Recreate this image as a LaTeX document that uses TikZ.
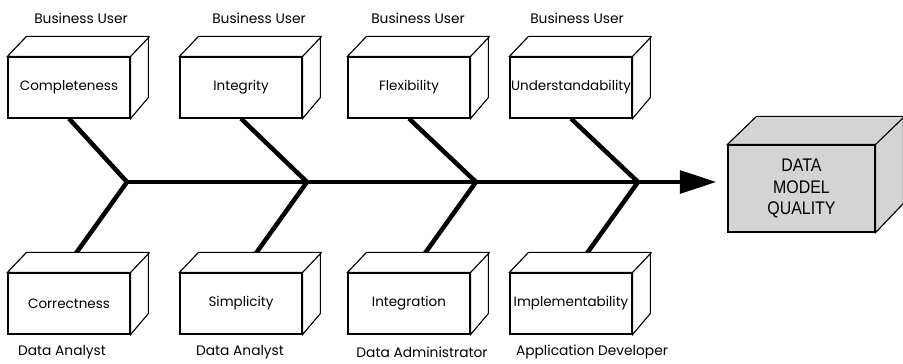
\documentclass[tikz,border=0pt]{standalone}
\usepackage{fontspec}
\setmainfont{Poppins}
\newfontfamily\arialfont[FakeStretch=0.87]{Liberation Sans}
\usetikzlibrary{arrows.meta,backgrounds}

\begin{document}
\begin{tikzpicture}[
    x = 0.025cm,
    y = -0.025cm,
    >={Triangle[length=26pt,width=16pt]},
    bone/.style = {line width = 3.2pt},
    facet/.style = {
      draw,
      fill = white,
      rectangle,
      line width = 0.8pt,
      inner sep = 0pt,
      minimum width = 3.05cm,
      minimum height = 1.525cm,
      font = \fontsize{9.6}{11}\selectfont
    },
    goal/.style = {
      facet,
      fill = black!17,
      align = center,
      minimum width = 3.675cm,
      minimum height = 2.175cm,
      font = \arialfont\fontsize{13}{15}\selectfont
    },
    role/.style = {font = \fontsize{9.8}{11}\selectfont}
  ]
  \useasboundingbox (0,0) rectangle (903,363);

  % junctions on the spine
  \coordinate (j1) at (127,182);
  \coordinate (j2) at (307,182);
  \coordinate (j3) at (476,182);
  \coordinate (j4) at (638,182);

  \node[facet] (compl) at (69,87.5)  {Completeness};
  \node[facet] (integ) at (241,87.5) {Integrity};
  \node[facet] (flex)  at (409,87.5) {Flexibility};
  \node[facet] (under) at (571,87.5) {Understandability};

  \node[facet] (corr)  at (69,303.5)  {Correctness};
  \node[facet] (simpl) at (241,303.5) {Simplicity};
  \node[facet] (integr) at (409,303.5) {Integration};
  \node[facet] (impl)  at (571,303.5) {Implementability};

  \node[goal] (dmq) at (801.5,188.5) {DATA\\MODEL\\QUALITY};

  % top and side faces
  \foreach \b in {compl,integ,flex,under,corr,simpl,integr,impl}
    \draw[line width=0.8pt, fill=white] (\b.north west) -- ++(19,-20) -- ++(122,0) -- ++(0,61)
      -- (\b.south east) -- (\b.north east) -- cycle (\b.north east) -- ++(19,-20);
  \draw[line width=0.8pt, fill=black!17] (dmq.north west) -- ++(29,-28) -- ++(147,0) -- ++(0,87)
    -- (dmq.south east) -- (dmq.north east) -- cycle (dmq.north east) -- ++(29,-28);

  \begin{scope}[on background layer]
    \draw[bone,->,shorten >=7.8pt] (j1) -- (j1 -| dmq.west);
    \draw[bone] (compl.south) -- (j1) -- ++(-53,74);
    \draw[bone] (integ.south) -- (j2) -- ++(-53,74);
    \draw[bone] (flex.south) -- (j3) -- ++(-53,74);
    \draw[bone] (under.south) -- (j4) -- ++(-53,74);
  \end{scope}

  \node[role] (bu1) at (81,18)  {Business User};
  \node[role] (bu2) at (259,18) {Business User};
  \node[role] (bu3) at (418,18) {Business User};
  \node[role] (bu4) at (577,18) {Business User};

  \node[role] (da1)  at (62,352)  {Data Analyst};
  \node[role] (da2)  at (240,352) {Data Analyst};
  \node[role] (dadm) at (422,352) {Data Administrator};
  \node[role] (adev) at (592,352) {Application Developer};
\end{tikzpicture}
\end{document}
